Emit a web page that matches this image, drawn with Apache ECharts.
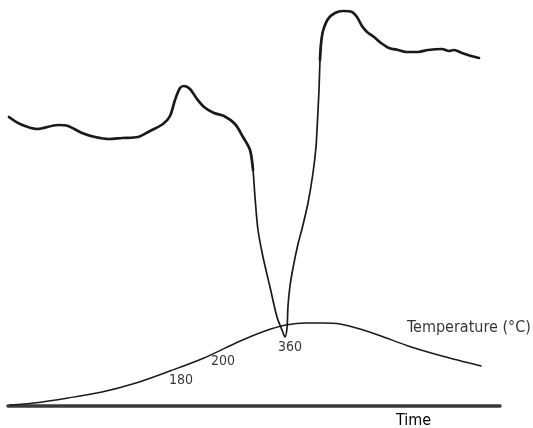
<!DOCTYPE html>
<html>
<head>
<meta charset="utf-8">
<script src="https://cdn.jsdelivr.net/npm/echarts@6/dist/echarts.min.js"></script>
<style>html,body{margin:0;padding:0;background:#fff;}#c{width:533px;height:428px;}</style>
</head>
<body>
<div id="c"></div>
<script>
// DTA signal (arbitrary units) vs time (arbitrary units)
var dtaLeft = [[1,289],[12,282],[29,277],[50,281],[60,280],[74,273],[87,269],[101,267],[114,268],[130,269],[142,275],[155,282],[162,290],[167,306],[172,318],[176,320],[182,317],[189,307],[196,299],[206,293],[216,290],[227,282],[235,269],[242,256],[245,236]];
var dtaDip = [[235,269],[242,256],[245,236],[247,209],[250,176],[255,149],[262,119],[269,89],[274,76],[277,69],[279,78],[280,100],[282,120],[285,138],[290,162],[294,177],[300,203],[305,233],[308,259],[309,276],[311,316],[312,346],[313,362],[315,375],[320,387]];
var dtaRight = [[312,346],[313,362],[315,375],[320,387],[327,393],[335,395],[344,394],[349,389],[354,380],[359,374],[366,369],[373,363],[381,358],[390,356],[398,354],[410,354],[420,356],[434,357],[441,355],[446,356],[454,353],[463,350],[471,348]];
// Temperature curve
var tempCurve = [[2,1],[26,3],[60,8],[94,14],[128,23],[162,35],[196,48],[230,64],[257,75],[278,81],[298,83],[315,83],[332,82],[352,77],[373,70],[400,60],[434,50],[473,40]];
// Temperature annotations
var tempLabels = ['180','200','360'];
var tempLabelPos = [[173,25.5],[215,45],[282,59]];
var curveName = 'Temperature (°C)';
var curveNamePos = [399,78];
var axisName = 'Time';

var chart = echarts.init(document.getElementById('c'));
var font = '"DejaVu Sans Condensed", "DejaVu Sans", sans-serif';
var labelData = tempLabels.map(function(t,i){return {name:t, value:tempLabelPos[i]};});
function line(data, width, color){
  return {type:'line', smooth:0.3, symbol:'none', silent:true, data:data,
          lineStyle:{color:color, width:width, cap:'round', join:'round'}};
}
chart.setOption({
  animation:false,
  backgroundColor:'#fff',
  grid:{left:8, right:33, top:0, bottom:22},
  xAxis:{type:'value', min:0, max:492, axisLine:{show:true, onZero:false, lineStyle:{color:'#3a3a3a', width:3.5}}, axisTick:{show:false}, axisLabel:{show:false}, splitLine:{show:false}},
  yAxis:{type:'value', min:0, max:406, show:false, splitLine:{show:false}},
  graphic:[{type:'text', x:396, y:421, style:{text:axisName, font:'16px ' + font, fill:'#000', verticalAlign:'middle'}}],
  series:[
    line(dtaDip, 1.7, '#1a1a1a'),
    line(dtaLeft, 2.7, '#1a1a1a'),
    line(dtaRight, 2.7, '#1a1a1a'),
    line(tempCurve, 1.4, '#1a1a1a'),
    {type:'scatter', symbolSize:0, silent:true, data:labelData,
     label:{show:true, position:'inside', formatter:'{b}', color:'#000', fontFamily:font, fontSize:14}},
    {type:'scatter', symbolSize:0, silent:true, data:[{name:curveName, value:curveNamePos}],
     label:{show:true, position:'right', distance:0, formatter:'{b}', color:'#000', fontFamily:font, fontSize:16}}
  ]
});
</script>
</body>
</html>
